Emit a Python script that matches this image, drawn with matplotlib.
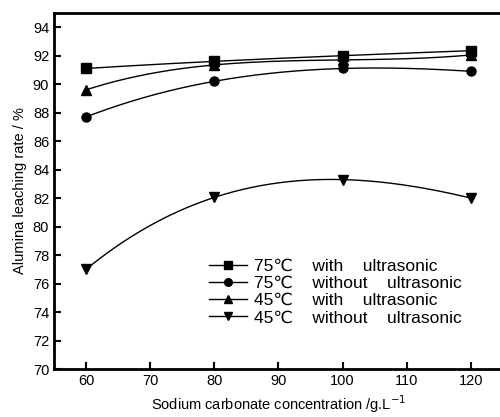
import numpy as np
import matplotlib
matplotlib.use("Agg")
import matplotlib.pyplot as plt

plt.rcParams['font.family'] = ['Liberation Sans', 'DejaVu Sans']

# dados
conc = [60, 80, 100, 120]
t75_com = [91.1, 91.6, 92.0, 92.35]
t75_sem = [87.7, 90.2, 91.1, 90.9]
t45_com = [89.6, 91.35, 91.7, 92.05]
t45_sem = [77.0, 82.05, 83.3, 82.0]

rotulos = ["75\u2103    with    ultrasonic", "75\u2103    without    ultrasonic",
           "45\u2103    with    ultrasonic", "45\u2103    without    ultrasonic"]
marcadores = ['s', 'o', '^', 'v']

fig = plt.figure(figsize=(5.0, 4.17), dpi=100)
ax = fig.add_axes([0.108, 0.115, 0.898, 0.854])

xs = np.linspace(60, 120, 200)
for serie, m, rot in zip([t75_com, t75_sem, t45_com, t45_sem], marcadores, rotulos):
    # curva suave passando pelos pontos
    coef = np.polyfit(conc, serie, 3)
    ax.plot(xs, np.polyval(coef, xs), color='black', lw=1.0)
    ax.plot(conc, serie, marker=m, color='black', ls='none', ms=6.5)
    ax.plot([], [], marker=m, color='black', lw=1.0, ms=5.5, label=rot)

ax.set_xlim(55, 125)
ax.set_ylim(70, 95)
ax.set_xticks(range(60, 121, 10))
ax.set_yticks(range(70, 95, 2))
ax.tick_params(direction='in', length=5, width=1.5, labelsize=10.5)
for s in ax.spines.values():
    s.set_linewidth(2)

ax.set_xlabel("Sodium carbonate concentration /g.L$^{-1}$", fontsize=10.5)
ax.set_ylabel("Alumina leaching rate / %", fontsize=10.5)

ax.legend(loc='upper left', bbox_to_anchor=(0.33, 0.33), frameon=False,
          fontsize=12.5, handlelength=2.2, handletextpad=0.4, labelspacing=0.12,
          borderaxespad=0)

fig.savefig("out.png", dpi=100)
